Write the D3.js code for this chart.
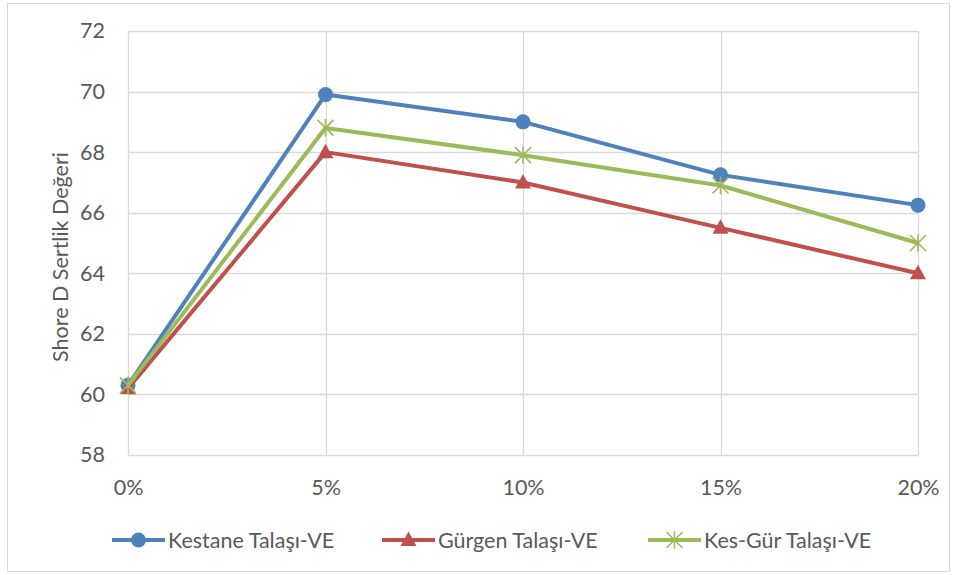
<!DOCTYPE html>
<html>
<head>
<meta charset="utf-8">
<script src="https://cdn.jsdelivr.net/npm/d3@7"></script>
<style>
  html, body { margin: 0; padding: 0; background: #fff; }
  svg { display: block; }
  text { font-family: Lato, "Open Sans", "Liberation Sans", sans-serif; fill: #595959; }
</style>
</head>
<body>
<svg id="chart" width="956" height="575"></svg>
<script>
// Filler ratio categories
const categories = ["0%", "5%", "10%", "15%", "20%"];

// Shore D hardness per composite
const kestane = [60.3, 69.9, 69.0, 67.25, 66.25];
const gurgen  = [60.2, 68.0, 67.0, 65.5, 64.0];
const kesGur  = [60.3, 68.8, 67.9, 66.9, 65.0];

const seriesNames = ["Kestane Talaşı-VE", "Gürgen Talaşı-VE", "Kes-Gür Talaşı-VE"];
const yTicks = [58, 60, 62, 64, 66, 68, 70, 72];
const yTitle = "Shore D Sertlik Değeri";

const colors = ["#4F81BD", "#C0504D", "#9BBB59"];
const markers = ["circle", "triangle", "star"];
const series = [kestane, gurgen, kesGur].map((values, i) => ({
  name: seriesNames[i], values, color: colors[i], marker: markers[i]
}));

const svg = d3.select("#chart");
const W = 956, H = 575;
const plot = { left: 128, right: 918, top: 31, bottom: 455 };
const fontSize = "21.5px";

// outer chart frame
svg.append("rect")
  .attr("x", 7.5).attr("y", 3.5).attr("width", W - 14).attr("height", H - 7)
  .attr("fill", "#fff").attr("stroke", "#d9d9d9").attr("stroke-width", 1);

const x = d3.scalePoint().domain(categories).range([plot.left, plot.right]).padding(0);
const y = d3.scaleLinear().domain([58, 72]).range([plot.bottom, plot.top]);

// horizontal gridlines
svg.append("g").selectAll("line").data(yTicks).join("line")
  .attr("x1", plot.left).attr("x2", plot.right)
  .attr("y1", d => Math.round(y(d)) + 0.5).attr("y2", d => Math.round(y(d)) + 0.5)
  .attr("stroke", "#d9d9d9").attr("stroke-width", 1.3);

// vertical gridlines at each category
svg.append("g").selectAll("line").data(categories).join("line")
  .attr("x1", d => Math.round(x(d)) + 0.5).attr("x2", d => Math.round(x(d)) + 0.5)
  .attr("y1", plot.top).attr("y2", plot.bottom)
  .attr("stroke", "#d9d9d9").attr("stroke-width", 1.3);

// y axis labels
const yAxis = d3.axisLeft(y).tickValues(yTicks).tickSize(0).tickPadding(23);
const gy = svg.append("g").attr("transform", `translate(${plot.left},0)`).call(yAxis);
gy.select(".domain").remove();
gy.selectAll("text").style("font-size", fontSize).attr("fill", "#595959")
  .style("font-family", "Lato, 'Open Sans', sans-serif");

// x axis labels
const xAxis = d3.axisBottom(x).tickSize(0).tickPadding(25);
const gx = svg.append("g").attr("transform", `translate(0,${plot.bottom})`).call(xAxis);
gx.select(".domain").remove();
gx.selectAll("text").style("font-size", fontSize).attr("fill", "#595959")
  .style("font-family", "Lato, 'Open Sans', sans-serif");

// y axis title
svg.append("text")
  .attr("transform", `translate(68,${(plot.top + plot.bottom) / 2 + 14}) rotate(-90)`)
  .attr("text-anchor", "middle")
  .style("font-size", fontSize)
  .text(yTitle);

function drawMarker(g, type, color) {
  if (type === "circle") {
    g.append("circle").attr("r", 7.5).attr("fill", color);
  } else if (type === "triangle") {
    g.append("path").attr("d", "M0,-8.5 L8,6 L-8,6 Z").attr("fill", color);
  } else {
    const s = 8;
    g.append("path")
      .attr("d", `M${-s},${-s} L${s},${s} M${-s},${s} L${s},${-s} M0,${-s * 1.1} L0,${s * 1.1}`)
      .attr("stroke", color).attr("stroke-width", 1.6).attr("fill", "none");
  }
}

const line = d3.line().x((d, i) => x(categories[i])).y(d => y(d));

series.forEach(s => {
  const g = svg.append("g");
  g.append("path").datum(s.values)
    .attr("d", line).attr("fill", "none")
    .attr("stroke", s.color).attr("stroke-width", 4).attr("stroke-linejoin", "round");
  s.values.forEach((v, i) => {
    const m = g.append("g").attr("transform", `translate(${x(categories[i])},${y(v)})`);
    drawMarker(m, s.marker, s.color);
  });
});

// legend
const legendY = 540;
const legendX = [112, 382, 648];
series.forEach((s, i) => {
  const g = svg.append("g").attr("transform", `translate(${legendX[i]},${legendY})`);
  g.append("line").attr("x1", 0).attr("x2", 53).attr("y1", 0).attr("y2", 0)
    .attr("stroke", s.color).attr("stroke-width", 4);
  const m = g.append("g").attr("transform", "translate(26.5,0)");
  drawMarker(m, s.marker, s.color);
  g.append("text").attr("x", 56).attr("y", 7.5)
    .style("font-size", fontSize)
    .text(s.name);
});
</script>
</body>
</html>
